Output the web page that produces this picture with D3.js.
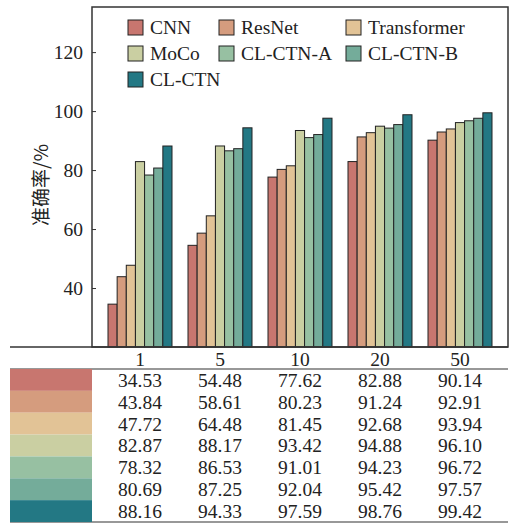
<!DOCTYPE html>
<html>
<head>
<meta charset="utf-8">
<script src="https://cdn.jsdelivr.net/npm/d3@7"></script>
<style>
  body { margin: 0; background: #fff; }
  text { font-family: "Liberation Serif", "Times New Roman", serif; fill: #222; }
</style>
</head>
<body>
<svg id="svg" width="516" height="524"></svg>
<script>
// data
const categories = ["1", "5", "10", "20", "50"];
const models = ["CNN", "ResNet", "Transformer", "MoCo", "CL-CTN-A", "CL-CTN-B", "CL-CTN"];
const colors = ["#C8766F", "#D59C7E", "#E2C396", "#CACFA2", "#97C0A2", "#74AC9A", "#237884"];
const cnn = [34.53, 54.48, 77.62, 82.88, 90.14];
const resnet = [43.84, 58.61, 80.23, 91.24, 92.91];
const transformer = [47.72, 64.48, 81.45, 92.68, 93.94];
const moco = [82.87, 88.17, 93.42, 94.88, 96.10];
const clctnA = [78.32, 86.53, 91.01, 94.23, 96.72];
const clctnB = [80.69, 87.25, 92.04, 95.42, 97.57];
const clctn = [88.16, 94.33, 97.59, 98.76, 99.42];
const yTicks = [40, 60, 80, 100, 120];

const series = [cnn, resnet, transformer, moco, clctnA, clctnB, clctn];

const svg = d3.select("#svg");
const FONT = 19.5;

// plot area
const LEFT = 92, RIGHT = 508, TOP = 7, BOTTOM = 347;
const TABLE_LEFT = 10;

const x0 = d3.scaleBand().domain(categories).range([LEFT, RIGHT]).paddingInner(0.2).paddingOuter(0.2);
const x1 = d3.scaleBand().domain(models).range([0, x0.bandwidth()]);
const y = d3.scaleLinear().domain([20, 135.3]).range([BOTTOM, TOP]);

// bars
const groups = svg.append("g").selectAll("g")
  .data(categories)
  .enter().append("g")
  .attr("transform", (c) => "translate(" + x0(c) + ",0)");

groups.selectAll("rect")
  .data((c, ci) => models.map((m, mi) => ({ m: m, i: mi, v: series[mi][ci] })))
  .enter().append("rect")
  .attr("x", (d) => x1(d.m))
  .attr("y", (d) => y(d.v))
  .attr("width", x1.bandwidth())
  .attr("height", (d) => BOTTOM - y(d.v))
  .attr("fill", (d) => colors[d.i])
  .attr("stroke", "#222")
  .attr("stroke-width", 1);

// y axis, ticks inside
const yAxis = svg.append("g")
  .attr("transform", "translate(" + LEFT + ",0)")
  .call(d3.axisLeft(y).tickValues(yTicks).tickSize(-4).tickPadding(9).tickSizeOuter(0));
yAxis.select(".domain").remove();
yAxis.selectAll("line").attr("stroke", "#333");
yAxis.selectAll("text").style("font-size", FONT + "px").style("font-family", "Liberation Serif").attr("fill", "#222");

// frame
svg.append("rect")
  .attr("x", LEFT).attr("y", TOP)
  .attr("width", RIGHT - LEFT).attr("height", BOTTOM - TOP)
  .attr("fill", "none").attr("stroke", "#333").attr("stroke-width", 1.5);

// y label
svg.append("text")
  .attr("transform", "translate(48," + ((TOP + BOTTOM) / 2 + 8) + ") rotate(-90)")
  .attr("text-anchor", "middle")
  .style("font-family", "'Noto Sans CJK SC', 'Liberation Serif', serif")
  .style("font-size", "19px")
  .text("准确率/%");

// legend
const legendCols = [128, 219, 346];
const legendRows = [20, 46, 72];
const legend = svg.append("g").selectAll("g")
  .data(models)
  .enter().append("g")
  .attr("transform", (m, i) => "translate(" + legendCols[i % 3] + "," + legendRows[Math.floor(i / 3)] + ")");
legend.append("rect")
  .attr("width", 15).attr("height", 15)
  .attr("fill", (m, i) => colors[i])
  .attr("stroke", "#222").attr("stroke-width", 1);
legend.append("text")
  .attr("x", 22).attr("y", 14)
  .style("font-size", FONT + "px")
  .text((m) => m);

// table below
const HEAD_LINE = 369, TABLE_BOTTOM = 522;
svg.append("line")
  .attr("x1", TABLE_LEFT).attr("x2", RIGHT).attr("y1", BOTTOM).attr("y2", BOTTOM)
  .attr("stroke", "#333").attr("stroke-width", 1.5);
svg.append("line")
  .attr("x1", TABLE_LEFT).attr("x2", RIGHT).attr("y1", HEAD_LINE).attr("y2", HEAD_LINE)
  .attr("stroke", "#333").attr("stroke-width", 1.2);
svg.append("line")
  .attr("x1", TABLE_LEFT).attr("x2", RIGHT).attr("y1", TABLE_BOTTOM).attr("y2", TABLE_BOTTOM)
  .attr("stroke", "#333").attr("stroke-width", 1.2);

// category labels
svg.append("g").selectAll("text")
  .data(categories)
  .enter().append("text")
  .attr("x", (c) => x0(c) + x0.bandwidth() / 2)
  .attr("y", 366)
  .attr("text-anchor", "middle")
  .style("font-size", FONT + "px")
  .text((c) => c);

const row = d3.scaleBand().domain(models).range([HEAD_LINE, TABLE_BOTTOM]);

// colour swatches
svg.append("g").selectAll("rect")
  .data(models)
  .enter().append("rect")
  .attr("x", TABLE_LEFT)
  .attr("y", (m) => row(m))
  .attr("width", LEFT - TABLE_LEFT)
  .attr("height", row.bandwidth())
  .attr("fill", (m, i) => colors[i]);

// values
models.forEach((m, mi) => {
  svg.append("g").selectAll("text")
    .data(series[mi])
    .enter().append("text")
    .attr("x", (v, ci) => x0(categories[ci]) + x0.bandwidth() / 2)
    .attr("y", row(m) + row.bandwidth() - 4)
    .attr("text-anchor", "middle")
    .style("font-size", FONT + "px")
    .text((v) => v.toFixed(2));
});
</script>
</body>
</html>
